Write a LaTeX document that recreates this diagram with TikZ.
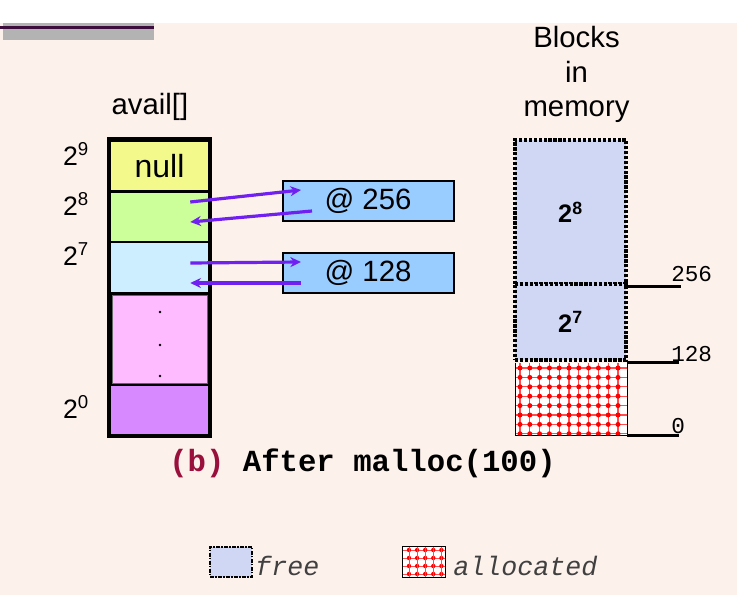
\documentclass[tikz,border=0pt]{standalone}
\usepackage{fontspec}
\setmainfont{Liberation Sans}
\setmonofont{Liberation Mono}
\usepackage{tikz}
\usetikzlibrary{positioning,calc,arrows.meta}
\definecolor{bgpink}   {HTML}{FDF1EC}
\definecolor{bargray}  {HTML}{B3B3B3}
\definecolor{barline}  {HTML}{3C0C3C}
\definecolor{nullfill} {HTML}{F4F98C}
\definecolor{lvleight} {HTML}{CCFF99}
\definecolor{lvlseven} {HTML}{CCEEFF}
\definecolor{dotsfill} {HTML}{FFBBFF}
\definecolor{lvlzero}  {HTML}{D78AFF}
\definecolor{addrfill} {HTML}{99CCFF}
\definecolor{ptrcol}   {HTML}{7020F0}
\definecolor{freefill} {HTML}{D0D7F4}
\definecolor{capred}   {HTML}{99103C}
\definecolor{allocred} {HTML}{FF0000}
\tikzset{
  % --- nodes
  availframe/.style = {fill=black, minimum width=78.75pt, minimum height=225.75pt, inner sep=0pt},
  cell/.style   = {minimum width=72.75pt, minimum height=36pt, inner sep=0pt},
  lvl/.style    = {font=\fontsize{20}{22}\selectfont, inner sep=0pt},
  addr/.style   = {draw=black, line width=1.5pt, fill=addrfill, minimum width=128.25pt,
                   minimum height=30pt, inner sep=0pt, font=\fontsize{22}{24}\selectfont},
  freeblk/.style = {draw=black, fill=freefill, line width=3pt, dash pattern=on 2.4pt off 1.3pt,
                   minimum width=83.7pt, inner sep=0pt, font=\fontsize{19}{21}\selectfont\bfseries},
  allocblk/.style = {fill=white, minimum width=83.25pt, minimum height=54pt, inner sep=0pt},
  memnum/.style = {font=\ttfamily\fontsize{17}{19}\selectfont, text=black, inner sep=0pt},
  legtxt/.style = {font=\ttfamily\itshape\fontsize{20}{24}\selectfont, text=black!75, inner sep=0pt},
  big/.style    = {font=\fontsize{22}{26}\selectfont},
  % --- edges
  ptr/.style    = {-{Stealth[length=8pt,width=7.5pt]}, line width=2.4pt, draw=ptrcol},
  tick/.style   = {line width=2.2pt, draw=black},
}

\begin{document}
\begin{tikzpicture}[x=0.75pt,y=-0.75pt]
  \useasboundingbox (0,0) rectangle (737,595);
  % page background and title bar
  \fill[white] (0,0) rectangle (737,23);
  \fill[bgpink] (0,23) rectangle (737,595);
  \fill[bargray] (3,23) rectangle (154,40);
  \fill[barline] (0,26) rectangle (154,29);

  % --- the avail[] array
  \node[big, anchor=base] (availlbl) at (150,115) {avail[]};
  \node[availframe] (avail) at (159.5,287.5) {};
  \node[cell, fill=nullfill, font=\fontsize{24}{26}\selectfont] (c9) at (159.5,166) {null};
  \node[cell, fill=lvleight] (c8) at (159.5,217) {};
  \node[cell, fill=lvlseven, minimum height=36.75pt] (c7) at (159.5,267.5) {};
  \node[cell, fill=dotsfill, draw=black!60, line width=0.6pt, minimum width=71.25pt,
        minimum height=66pt] (cdots) at (160,339) {};
  \node[cell, fill=lvlzero] (c0) at (159.5,410) {};
  \foreach \y in {312,345,376}
    \fill[black] (160,\y) circle (1.4);
  \foreach \nm/\e/\y in {l9/9/154, l8/8/204, l7/7/254, l0/0/407}
    \node[lvl] (\nm) at (76,\y) {2\textsuperscript{\e}};

  % --- free list entries
  \node[addr] (p256) at (368,201) {@ 256};
  \node[addr] (p128) at (368,273) {@ 128};
  \draw[ptr] ($(c8.east)+(-18,-15)$) -- ($(p256.west)+(19.5,-11)$);
  \draw[ptr] ($(p256.west)+(30.5,10)$) -- ($(c8.east)+(-18,5)$);
  \draw[ptr] ($(c7.east)+(-18,-4.5)$) -- ($(p128.west)+(19.5,-11)$);
  \draw[ptr] ($(p128.west)+(19.5,10)$) -- ($(c7.east)+(-18,15.5)$);

  % --- blocks in memory
  \node[big, align=center, anchor=north, inner sep=0pt] (blk) at (576.5,26) {Blocks\\in\\memory};
  \node[allocblk] (alloc) at (571.5,399) {};
  \begin{scope}
    \clip (alloc.south west) rectangle (alloc.north east);
    \foreach \i in {0,...,10} {
      \pgfmathsetmacro{\x}{520+\i*9.8}
      \draw[allocred!70, line width=0.8pt] (\x,363) -- (\x,435);
    }
    \foreach \j in {0,...,7} {
      \pgfmathsetmacro{\y}{368+\j*9.4}
      \draw[allocred!70, line width=0.8pt] (516,\y) -- (627,\y);
      \foreach \i in {0,...,10}
        \fill[allocred] ({520+\i*9.8},\y) circle (2.5);
    }
  \end{scope}
  \draw[line width=1pt] (alloc.north west) -- (alloc.south west) -- (alloc.south east) -- (alloc.north east);
  \node[freeblk, minimum height=108.2pt] (b8) at (570.5,212) {2\textsuperscript{8}};
  \node[freeblk, minimum height=57.4pt] (b7) at (570.5,322) {2\textsuperscript{7}};
  \draw[tick] (b8.south east) -- ++(53,0);
  \draw[tick] (alloc.north east) -- ++(52,0);
  \draw[tick] (alloc.south east) -- ++(52,0);
  \node[memnum, anchor=base west] (m256) at (671,281) {256};
  \node[memnum, anchor=base west] (m128) at (671,361) {128};
  \node[memnum, anchor=base west] (m0) at (671,433) {0};

  % caption
  \node[anchor=base west, inner sep=0pt, font=\ttfamily\bfseries\fontsize{23}{26}\selectfont]
    (cap) at (169,471) {\textcolor{capred}{(b)} After malloc(100)};

  % --- legend
  \node[draw=black, fill=freefill, line width=1.5pt, dash pattern=on 3pt off 1pt on 1pt off 1pt,
        minimum width=31.5pt, minimum height=22.5pt, inner sep=0pt] (kfree) at (231,561.5) {};
  \node[legtxt, anchor=base west] (tfree) at (255,575) {free};
  \node[fill=white, minimum width=31.5pt, minimum height=22.5pt, inner sep=0pt] (kalloc) at (424,562) {};
  \begin{scope}
    \clip (kalloc.south west) rectangle (kalloc.north east);
    \foreach \j in {0,...,3} {
      \pgfmathsetmacro{\y}{550+\j*8}
      \draw[allocred!70, line width=0.7pt] (403,\y) -- (445,\y);
      \foreach \i in {0,...,4}
        \fill[allocred] ({409+\i*8.1},\y) circle (2.2);
    }
    \foreach \i in {0,...,4}
      \draw[allocred!70, line width=0.7pt] ({409+\i*8.1},547) -- ++(0,30);
  \end{scope}
  \draw[line width=1pt] (kalloc.south west) rectangle (kalloc.north east);
  \node[legtxt, anchor=base west] (talloc) at (453,575) {allocated};
\end{tikzpicture}
\end{document}
